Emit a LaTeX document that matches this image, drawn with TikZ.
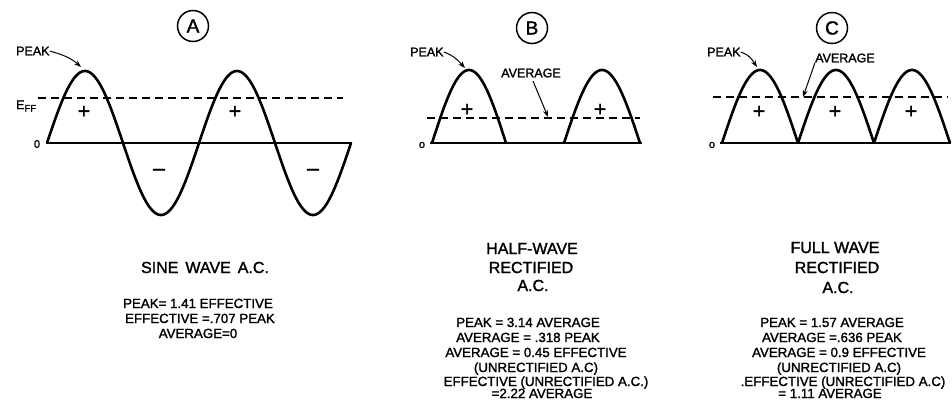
\documentclass[tikz,border=0pt]{standalone}
\usepackage{fontspec}
\setmainfont{Liberation Sans}[FakeBold=1.6]
\usetikzlibrary{arrows.meta}
\begin{document}
\begin{tikzpicture}[x=1pt,y=-1pt,
  wave/.style={line width=2.6pt, line join=round, line cap=round},
  axis/.style={line width=2pt},
  refline/.style={line width=1.1pt, dash pattern=on 8pt off 5pt},
  lbl/.style={font=\fontsize{12.5}{13}\selectfont, inner sep=0pt},
  sgn/.style={font=\fontsize{21}{21}\selectfont, inner sep=0pt},
  zero/.style={font=\fontsize{11}{11}\selectfont, inner sep=0pt},
  ttl/.style={font=\fontsize{16}{18}\selectfont, anchor=base, inner sep=0pt},
  eqn/.style={font=\fontsize{13.3}{15}\selectfont, anchor=base, inner sep=0pt},
  circlbl/.style={circle, draw, line width=1.5pt, minimum size=31pt, inner sep=0pt, font=\fontsize{19}{19}\selectfont},
  pointer/.style={line width=1pt, -{Stealth[length=7pt,width=5pt]}}]
\useasboundingbox (0,0) rectangle (952,400);

% ---------------- Panel A ----------------
\node[circlbl] (circA) at (193,26) {A};
\draw[refline] (38,98) -- (343,98);
\draw[axis] (47,143) -- (352,143);
\draw[wave] plot[domain=0:304, samples=220] ({47+\x},{143-72*sin(\x/152*360)});
\node[zero] (zA) at (37,144) {0};
\node[lbl, anchor=west] (effA) at (16,106) {E\raisebox{-2.5pt}{\fontsize{9.5}{9.5}\selectfont FF}};
\node[lbl, anchor=west] (peakA) at (16,51) {PEAK};
\coordinate (peakAtip) at (81,67);
\draw[pointer] (peakA.east) .. controls (60,54) and (70,57) .. (peakAtip);
\node[sgn] (pA1) at (84,112) {+};
\node[sgn] (pA2) at (235,112) {+};
\node[sgn] (mA1) at (159,172) {–};
\node[sgn] (mA2) at (313,172) {–};

\node[ttl] (tA) at (205,273) {SINE\hspace{7pt}WAVE\hspace{7pt}A.C.};
\node[eqn] (a1) at (198,308) {PEAK= 1.41 EFFECTIVE};
\node[eqn] (a2) at (200,323) {EFFECTIVE =.707 PEAK};
\node[eqn] (a3) at (198,338) {AVERAGE=0};

% ---------------- Panel B ----------------
\node[circlbl] (circB) at (532,28) {B};
\draw[refline] (427,118) -- (640,118);
\draw[axis] (430,143) -- (642,143);
\draw[wave] plot[domain=0:74, samples=80] ({432+\x},{143-73*sin(\x/74*180)});
\draw[wave] plot[domain=0:76, samples=80] ({564+\x},{143-73*sin(\x/76*180)});
\node[zero] (zB) at (422,145) {o};
\node[lbl, anchor=west] (peakB) at (410,52) {PEAK};
\coordinate (peakBtip) at (465,68);
\draw[pointer] (peakB.east) .. controls (452,55) and (456,58) .. (peakBtip);
\node[lbl] (avgB) at (531,73) {AVERAGE};
\coordinate (avgBstart) at (533,81);
\coordinate (avgBtip) at (548,117);
\draw[pointer] (avgBstart) -- (avgBtip);
\node[sgn] (pB1) at (467,110) {+};
\node[sgn] (pB2) at (600,110) {+};

\node[ttl] (tB1) at (532,254) {HALF-WAVE};
\node[ttl] (tB2) at (531,273) {RECTIFIED};
\node[ttl] (tB3) at (533,291) {A.C.};
\node[eqn] (b1) at (528,327) {PEAK = 3.14 AVERAGE};
\node[eqn] (b2) at (528,342) {AVERAGE = .318 PEAK};
\node[eqn] (b3) at (536,357) {AVERAGE = 0.45 EFFECTIVE};
\node[eqn] (b4) at (536,372) {(UNRECTIFIED A.C)};
\node[eqn] (b5) at (546,386) {EFFECTIVE (UNRECTIFIED A.C.)};
\node[eqn] (b6) at (542,398) {=2.22 AVERAGE};

% ---------------- Panel C ----------------
\node[circlbl] (circC) at (832,28) {C};
\draw[refline] (713,97) -- (948,97);
\draw[axis] (720,143) -- (950,143);
\draw[wave] plot[domain=0:228, samples=240] ({722+\x},{143-73*abs(sin(\x/76*180))});
\node[zero] (zC) at (712,145) {o};
\node[lbl, anchor=west] (peakC) at (707,52) {PEAK};
\coordinate (peakCtip) at (757,67);
\draw[pointer] (peakC.east) .. controls (749,55) and (751,58) .. (peakCtip);
\node[lbl, anchor=west] (avgC) at (815,58) {AVERAGE};
\coordinate (avgCtip) at (803,97);
\draw[pointer] (avgC.south west) -- (avgCtip);
\node[sgn] (pC1) at (759,112) {+};
\node[sgn] (pC2) at (835,112) {+};
\node[sgn] (pC3) at (911,112) {+};

\node[ttl] (tC1) at (835,253) {FULL WAVE};
\node[ttl] (tC2) at (837,273) {RECTIFIED};
\node[ttl] (tC3) at (838,293) {A.C.};
\node[eqn] (c1) at (832,327) {PEAK = 1.57 AVERAGE};
\node[eqn] (c2) at (832,342) {AVERAGE =.636 PEAK};
\node[eqn] (c3) at (839,357) {AVERAGE = 0.9 EFFECTIVE};
\node[eqn] (c4) at (839,372) {(UNRECTIFIED A.C)};
\node[eqn] (c5) at (843,386) {.EFFECTIVE (UNRECTIFIED A.C)};
\node[eqn] (c6) at (830,398) {= 1.11 AVERAGE};
\end{tikzpicture}
\end{document}
